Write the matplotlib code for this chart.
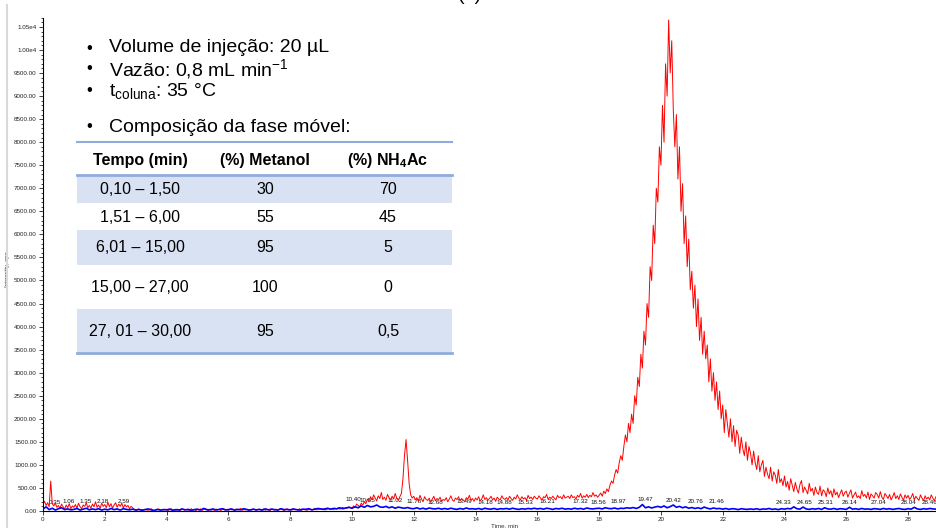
import matplotlib
matplotlib.use("Agg")
import matplotlib.pyplot as plt
import numpy as np
from matplotlib.patches import Rectangle
from matplotlib.lines import Line2D
from matplotlib.ticker import MultipleLocator, FuncFormatter

plt.rcParams["font.family"] = ["Liberation Sans", "DejaVu Sans"]
plt.rcParams["mathtext.fontset"] = "custom"
plt.rcParams["mathtext.rm"] = "Liberation Sans"
plt.rcParams["mathtext.it"] = "Liberation Sans:italic"
plt.rcParams["mathtext.bf"] = "Liberation Sans:bold"

# red trace (sampled every 0.05 min), one row per minute
red_step = 0.05
red_cps = [
    150, 210, 120, 180, 90, 650, 160, 110, 170, 80, 120, 60, 150, 90, 40, 130, 70, 160, 50, 110,
    80, 140, 60, 170, 90, 50, 130, 100, 180, 70, 120, 60, 150, 90, 200, 80, 130, 60, 170, 100,
    140, 70, 190, 90, 160, 60, 130, 180, 80, 150, 100, 170, 60, 140, 90, 120, 50, 100, 70, 40,
    30, 15, 45, 20, 35, 10, 40, 25, 15, 30, 50, 20, 10, 35, 25, 45, 15, 30, 20, 40,
    25, 10, 35, 50, 20, 30, 15, 40, 25, 10, 45, 30, 20, 35, 15, 25, 50, 20, 30, 10,
    35, 20, 45, 15, 30, 55, 25, 10, 40, 20, 30, 15, 45, 25, 35, 10, 30, 50, 20, 25,
    15, 40, 25, 30, 10, 45, 20, 35, 55, 15, 30, 25, 40, 10, 35, 20, 45, 30, 15, 25,
    40, 20, 30, 50, 15, 35, 25, 10, 45, 30, 20, 40, 15, 35, 55, 25, 10, 30, 45, 20,
    30, 15, 45, 25, 35, 20, 50, 10, 30, 40, 25, 15, 35, 45, 20, 30, 60, 25, 40, 35,
    45, 30, 55, 25, 40, 60, 35, 50, 30, 65, 45, 70, 40, 55, 80, 50, 75, 60, 90, 70,
    60, 110, 80, 150, 120, 90, 170, 130, 200, 160, 260, 200, 310, 240, 350, 280, 220, 330, 270, 400,
    250, 300, 230, 360, 290, 240, 320, 260, 380, 280, 230, 310, 380, 700, 1200, 1550, 1100, 600, 350, 280,
    320, 240, 290, 210, 340, 260, 200, 310, 250, 230, 280, 190, 260, 320, 220, 270, 240, 300, 210, 250,
    230, 290, 200, 260, 330, 240, 210, 280, 250, 310, 220, 270, 240, 200, 290, 260, 340, 230, 270, 210,
    280, 240, 310, 220, 260, 350, 250, 290, 230, 270, 320, 240, 280, 210, 300, 260, 240, 330, 270, 250,
    290, 240, 320, 270, 230, 300, 260, 350, 280, 240, 310, 260, 290, 230, 340, 270, 300, 250, 320, 280,
    260, 330, 280, 240, 310, 290, 360, 250, 300, 270, 320, 280, 240, 340, 290, 310, 260, 350, 280, 300,
    320, 270, 350, 290, 310, 260, 340, 300, 380, 280, 330, 300, 360, 290, 340, 310, 400, 320, 350, 300,
    340, 390, 320, 430, 380, 480, 420, 560, 650, 600, 780, 900, 820, 1050, 1200, 1100, 1400, 1650, 1500, 1900,
    1700, 2100, 1900, 2500, 2300, 2900, 2700, 3400, 3100, 3900, 3600, 4500, 4200, 5300, 5000, 6200, 5800, 7000, 6700, 7900,
    7500, 8800, 8000, 9700, 9000, 10650, 9500, 10200, 8700, 7900, 8600, 7200, 7900, 6500, 7100, 5800, 6400, 5300, 5900, 4800,
    5200, 4400, 4900, 4000, 4600, 3700, 4200, 3400, 3900, 3300, 3600, 2800, 3300, 2600, 3000, 2400, 2800, 2200, 2600, 2000,
    2300, 1700, 2200, 1900, 1600, 2000, 1500, 1850, 1400, 1750, 1650, 1250, 1600, 1350, 1200, 1500, 1100, 1400, 1250, 1000,
    1300, 1050, 900, 1200, 850, 1000, 1100, 750, 950, 800, 700, 950, 650, 850, 780, 600, 900, 620, 700, 550,
    760, 520, 640, 450, 700, 560, 420, 620, 480, 390, 580, 660, 400, 520, 450, 370, 600, 430, 490, 340,
    520, 400, 360, 540, 330, 460, 420, 310, 500, 370, 440, 300, 480, 350, 410, 290, 380, 460, 320, 400,
    430, 300, 380, 460, 280, 350, 410, 290, 330, 270, 440, 320, 360, 280, 410, 250, 370, 330, 280, 400,
    360, 280, 420, 300, 250, 380, 330, 270, 360, 240, 310, 400, 270, 330, 250, 370, 300, 230, 350, 280,
    340, 250, 300, 380, 240, 320, 270, 230, 350, 280, 220, 330, 260, 300, 240, 350, 280, 220, 310, 260,
]

# blue trace (sampled every 0.1 min)
blue_step = 0.1
blue_cps = [
    40, 90, 30, 60, 20, 50, 70, 30, 45, 25,
    35, 55, 20, 40, 60, 25, 45, 30, 50, 20,
    40, 25, 55, 30, 45, 20, 50, 35, 25, 40,
    20, 35, 15, 30, 45, 25, 10, 35, 20, 30,
    25, 40, 15, 30, 20, 45, 25, 35, 15, 30,
    40, 20, 55, 30, 25, 45, 20, 35, 50, 25,
    30, 45, 20, 35, 25, 50, 30, 20, 40, 25,
    35, 20, 45, 25, 40, 30, 20, 50, 30, 35,
    25, 45, 30, 20, 40, 35, 50, 25, 40, 55,
    45, 35, 60, 40, 55, 45, 70, 50, 65, 80,
    60, 90, 70, 110, 80, 120, 90, 100, 130, 90,
    80, 100, 70, 90, 60, 85, 70, 60, 75, 55,
    50, 70, 45, 60, 40, 65, 50, 45, 60, 40,
    55, 40, 60, 45, 35, 55, 40, 65, 45, 50,
    40, 55, 35, 60, 45, 40, 55, 35, 50, 45,
    55, 40, 60, 45, 35, 50, 40, 55, 45, 60,
    45, 55, 40, 60, 50, 35, 55, 45, 60, 40,
    50, 40, 60, 45, 55, 40, 65, 50, 45, 55,
    60, 45, 70, 55, 50, 65, 45, 60, 55, 70,
    60, 75, 55, 80, 140, 70, 90, 65, 85, 100,
    80, 110, 70, 95, 130, 80, 100, 70, 90, 60,
    75, 55, 70, 50, 85, 60, 45, 65, 50, 55,
    40, 55, 35, 50, 45, 30, 50, 40, 35, 45,
    35, 50, 30, 45, 40, 55, 35, 45, 30, 50,
    40, 55, 45, 90, 50, 40, 85, 45, 35, 50,
    40, 55, 35, 70, 45, 40, 55, 35, 50, 45,
    35, 80, 40, 50, 35, 55, 40, 45, 35, 50,
    45, 35, 55, 40, 50, 35, 45, 55, 40, 35,
    50, 40, 80, 45, 35, 50, 40, 55, 45, 40,
]

# peak retention-time labels
peak_labels = ["0.35", "1.06", "1.35", "2.18", "2.59", "10.40", "10.55", "11.02", "11.78",
               "12.68", "13.49", "14.18", "14.88", "15.53", "16.21", "17.32", "18.56", "18.97",
               "19.47", "20.42", "20.76", "21.46", "24.33", "24.65", "25.31", "26.14", "27.04",
               "28.04", "28.46"]
label_t = [0.39, 0.84, 1.39, 1.93, 2.61, 10.03, 10.50, 11.38, 12.02, 12.69, 13.64, 14.32,
           14.93, 15.61, 16.33, 17.38, 17.99, 18.61, 19.48, 20.42, 21.13, 21.81, 23.96,
           24.64, 25.32, 26.12, 27.04, 28.01, 28.70]
label_y = [195, 200, 200, 200, 215, 240, 235, 220, 215, 195, 200, 195, 195, 195, 200,
           200, 195, 215, 260, 220, 205, 205, 195, 195, 195, 195, 195, 195, 195]

# method conditions table
table_header = ["Tempo (min)", "(%) Metanol", r"(%) NH$_\mathbf{4}$Ac"]
tempo = ["0,10 – 1,50", "1,51 – 6,00", "6,01 – 15,00", "15,00 – 27,00", "27, 01 – 30,00"]
metanol = ["30", "55", "95", "100", "95"]
nh4ac = ["70", "45", "5", "0", "0,5"]

W, H = 937, 528


def fx(px):
    return px / W


def fy(py):
    return 1 - py / H


fig = plt.figure(figsize=(W / 100, H / 100), dpi=100)
ax = fig.add_axes([fx(43), fy(511), 896 / W, 493.3 / H])

t_red = np.arange(len(red_cps)) * red_step
t_blue = np.arange(len(blue_cps)) * blue_step
ax.plot(t_red, red_cps, color="#ff0000", lw=0.7, zorder=2)
ax.plot(t_blue, blue_cps, color="#0000ff", lw=1.2, zorder=3)

for lab, tx, ty in zip(peak_labels, label_t, label_y):
    ax.text(tx, ty, lab, fontsize=4.5, ha="center", va="center", color="#111111", zorder=1)

ax.set_xlim(0, 29)
ax.set_ylim(0, 10700)
ax.xaxis.set_major_locator(MultipleLocator(2))
ax.yaxis.set_major_locator(MultipleLocator(500))
ax.yaxis.set_minor_locator(MultipleLocator(100))
ax.yaxis.set_major_formatter(
    FuncFormatter(lambda v, p: f"{v / 1e4:.2f}e4" if v >= 10000 else f"{v:.2f}"))
ax.tick_params(axis="both", which="major", labelsize=4.5, length=3, width=0.6,
               colors="#222222", pad=1.5)
ax.tick_params(axis="y", which="minor", length=1.5, width=0.5)
for side in ["top", "right"]:
    ax.spines[side].set_visible(False)
for side in ["left", "bottom"]:
    ax.spines[side].set_linewidth(0.8)
ax.set_xlabel("Time, min", fontsize=4.5, color="#333333")
ax.xaxis.set_label_coords((505 - 43) / 896, -0.024)
ax.set_ylabel("Intensity, cps", fontsize=4.5, color="#333333")
ax.yaxis.set_label_coords(-33 / 896, (511 - 269) / 493.3)

# slide border line and cut-off panel letter
fig.add_artist(Line2D([fx(7), fx(7)], [fy(5), 0], transform=fig.transFigure,
                      color="#d9d9d9", lw=1.5))
fig.text(fx(470), fy(-5), "(a)", fontsize=14, ha="center", va="center")

# bullet list
bullets = ["Volume de injeção: 20 µL", r"Vazão: 0,8 mL min$^{-1}$",
           r"t$_{\mathrm{coluna}}$: 35 °C", "Composição da fase móvel:"]
bullet_y = [48, 69, 91, 127]
for txt, by in zip(bullets, bullet_y):
    fig.text(fx(86), fy(by), "•", fontsize=12, va="center")
    fig.text(fx(109), fy(by), txt, fontsize=14, va="center")

# table
tab_left, tab_right = 77, 452
shade = [(176, 203), (230, 265), (309, 352)]
for y0, y1 in shade:
    fig.add_artist(Rectangle((fx(tab_left), fy(y1)), (tab_right - tab_left) / W, (y1 - y0) / H,
                             transform=fig.transFigure, facecolor="#d9e2f3", edgecolor="none"))
for ly, lw in [(142, 1.5), (175, 2.0), (352.5, 2.0)]:
    fig.add_artist(Line2D([fx(tab_left), fx(tab_right)], [fy(ly), fy(ly)],
                          transform=fig.transFigure, color="#8faadc", lw=lw))
col_x = [140, 265, 388]
for cx, head in zip(col_x, table_header):
    fig.text(fx(cx), fy(160), head, fontsize=11.5, fontweight="bold", ha="center", va="center")
row_y = [190, 217, 248, 287, 331]
for ry, a, b, c in zip(row_y, tempo, metanol, nh4ac):
    for cx, val in zip(col_x, [a, b, c]):
        fig.text(fx(cx), fy(ry), val, fontsize=11.5, ha="center", va="center")

fig.savefig("out.png", dpi=100)
